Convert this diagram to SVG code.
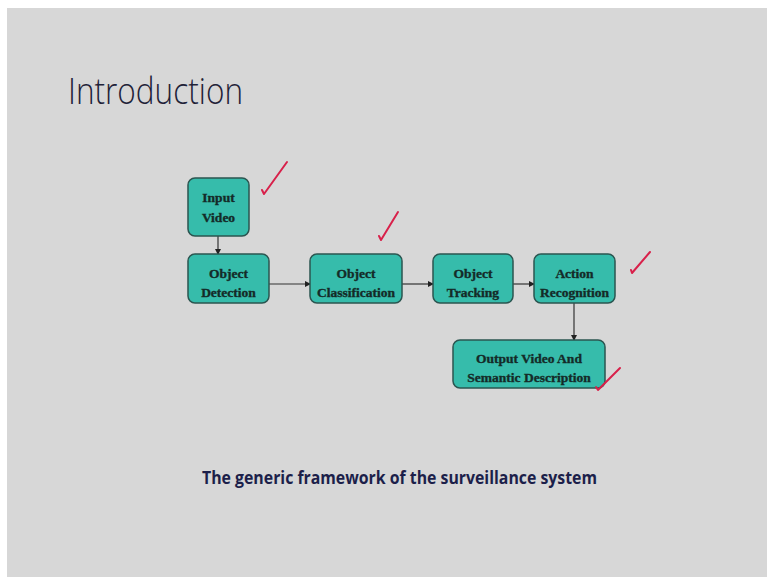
<svg xmlns="http://www.w3.org/2000/svg" width="767" height="578" viewBox="0 0 767 578">
<style>
.node rect{fill:#36bcab;stroke:#2b5550;stroke-width:1.5}
.node text{font-family:"Liberation Serif",serif;font-weight:bold;font-size:13.5px;fill:#142b28;stroke:#142b28;stroke-width:0.35;text-anchor:middle}
.conn{stroke:#333;stroke-width:1.2;fill:none;marker-end:url(#ah)}
.tick{stroke:#d8204a;stroke-width:2;fill:none;stroke-linecap:round;stroke-linejoin:round}
</style>
<defs>
<marker id="ah" markerWidth="6" markerHeight="6" refX="5" refY="3" orient="auto" markerUnits="userSpaceOnUse">
<path d="M0,0 L6,3 L0,6 Z" fill="#222"/>
</marker>
</defs>
<rect x="0" y="0" width="767" height="578" fill="#ffffff"/>
<rect x="7" y="8" width="760" height="569" fill="#d7d7d7"/>
<text x="68" y="104" font-family="'Open Sans',sans-serif" font-weight="300" font-size="37" fill="#1f2238" textLength="175" lengthAdjust="spacingAndGlyphs">Introduction</text>
<g id="connectors">
<line class="conn" x1="218" y1="236" x2="218" y2="254"/>
<line class="conn" x1="269" y1="284" x2="310" y2="284"/>
<line class="conn" x1="402" y1="284" x2="433" y2="284"/>
<line class="conn" x1="513" y1="284" x2="534" y2="284"/>
<line class="conn" x1="574" y1="303" x2="574" y2="340"/>
</g>
<g id="input-video" class="node">
<rect x="188" y="178" width="61" height="58" rx="7"/>
<text x="218.5" y="202">Input</text>
<text x="218.5" y="222">Video</text>
</g>
<g id="object-detection" class="node">
<rect x="188" y="254" width="81" height="49" rx="7"/>
<text x="228.5" y="278">Object</text>
<text x="228.5" y="297">Detection</text>
</g>
<g id="object-classification" class="node">
<rect x="310" y="254" width="92" height="49" rx="7"/>
<text x="356" y="278">Object</text>
<text x="356" y="297">Classification</text>
</g>
<g id="object-tracking" class="node">
<rect x="433" y="254" width="80" height="49" rx="7"/>
<text x="473" y="278">Object</text>
<text x="473" y="297">Tracking</text>
</g>
<g id="action-recognition" class="node">
<rect x="534" y="254" width="81" height="49" rx="7"/>
<text x="574.5" y="278">Action</text>
<text x="574.5" y="297">Recognition</text>
</g>
<g id="output-video" class="node">
<rect x="453" y="340" width="152" height="48" rx="7"/>
<text x="529" y="363">Output Video And</text>
<text x="529" y="382">Semantic Description</text>
</g>
<g id="ticks">
<path class="tick" d="M262,190 L264,194 L287,162"/>
<path class="tick" d="M379,236 L381,240 L398,212"/>
<path class="tick" d="M631,270 L632,273 L650,252"/>
<path class="tick" d="M596,387 L598,390 L620,368"/>
</g>
<text x="202" y="484" font-family="'Open Sans',sans-serif" font-weight="bold" font-size="18.5" fill="#1c1f4a" textLength="395" lengthAdjust="spacingAndGlyphs">The generic framework of the surveillance system</text>
</svg>
